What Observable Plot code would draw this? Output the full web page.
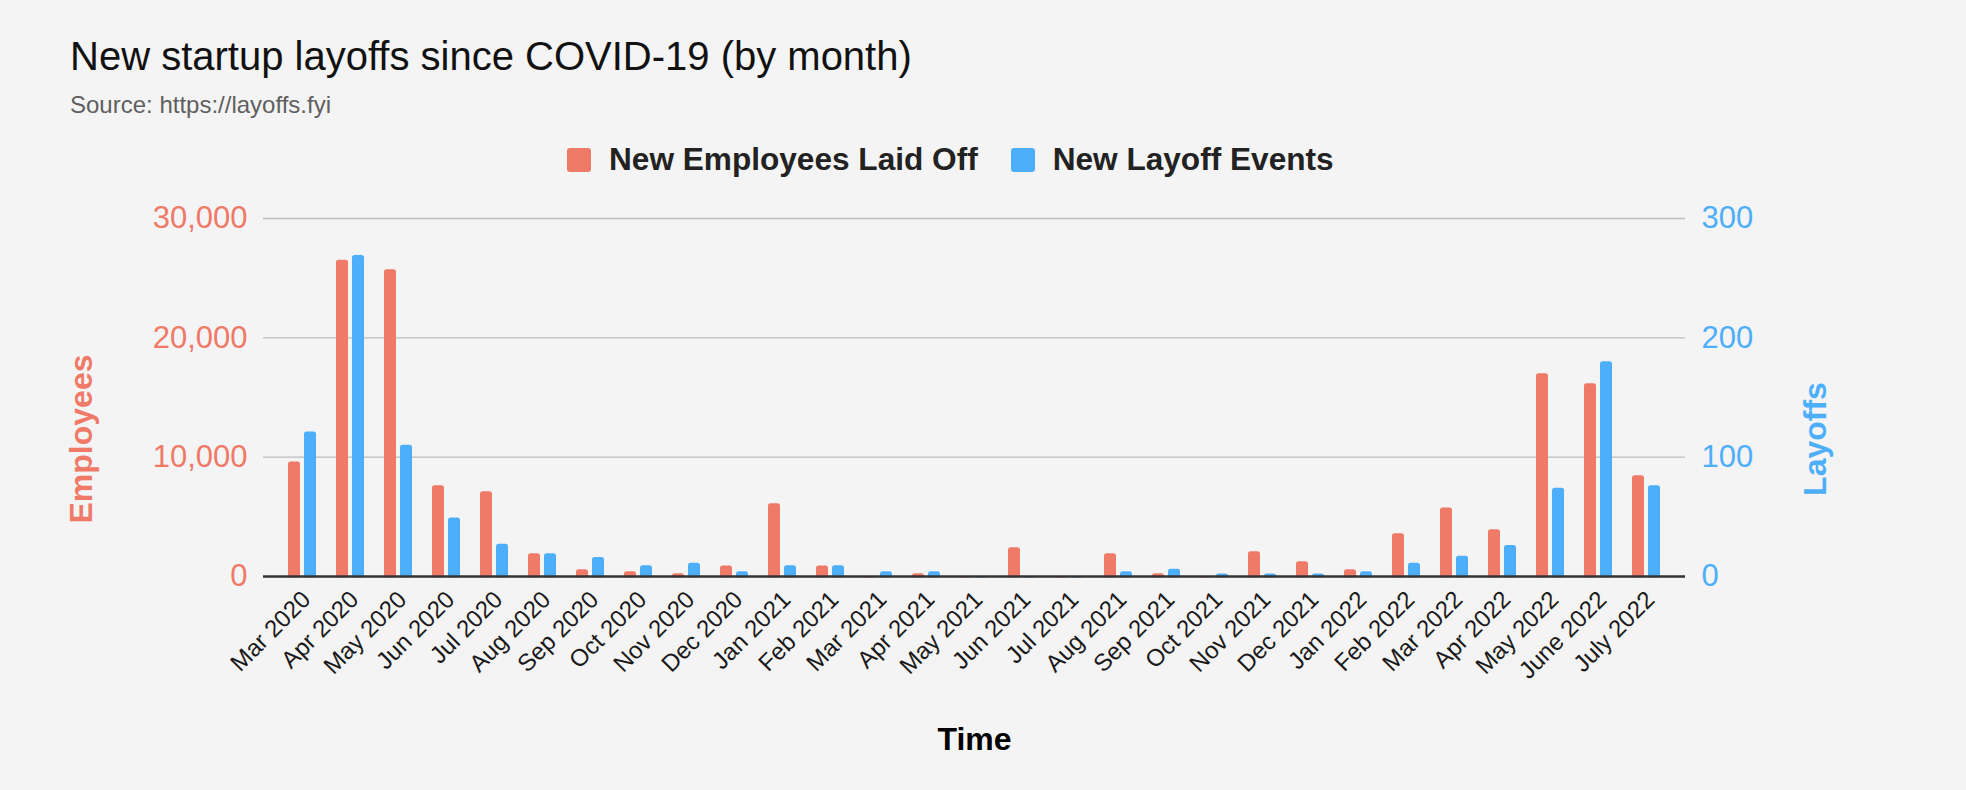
<!DOCTYPE html>
<html>
<head>
<meta charset="utf-8">
<script src="https://cdn.jsdelivr.net/npm/d3@7"></script>
<script src="https://cdn.jsdelivr.net/npm/@observablehq/plot@0.6"></script>
<style>
html, body { margin: 0; padding: 0; background: #f4f4f4; }
#chart { position: relative; width: 1966px; height: 790px; overflow: hidden;
  font-family: "Liberation Sans", Arial, Helvetica, sans-serif; }
#title { position: absolute; left: 70px; top: 36px; font-size: 40px; line-height: 1; color: #111; white-space: nowrap; }
#subtitle { position: absolute; left: 70px; top: 93px; font-size: 24px; line-height: 1; color: #5f5f5f; white-space: nowrap; }
#legend { position: absolute; left: 567px; top: 144px; display: flex; align-items: center;
  font-size: 31.6px; font-weight: bold; color: #222; line-height: 1; white-space: nowrap; }
.item { display: flex; align-items: center; margin-right: 33px; }
.sw { width: 24px; height: 24px; border-radius: 3px; margin-right: 18px; }
#plot { position: absolute; left: 0; top: 190px; }
</style>
</head>
<body>
<div id="chart">
  <div id="title"></div>
  <div id="subtitle"></div>
  <div id="legend"></div>
  <div id="plot"></div>
</div>
<script>
const titleText = "New startup layoffs since COVID-19 (by month)";
const subtitleText = "Source: https://layoffs.fyi";

const months = ["Mar 2020","Apr 2020","May 2020","Jun 2020","Jul 2020","Aug 2020","Sep 2020","Oct 2020","Nov 2020","Dec 2020",
  "Jan 2021","Feb 2021","Mar 2021","Apr 2021","May 2021","Jun 2021","Jul 2021","Aug 2021","Sep 2021","Oct 2021","Nov 2021","Dec 2021",
  "Jan 2022","Feb 2022","Mar 2022","Apr 2022","May 2022","June 2022","July 2022"];
const employees = [9600, 26500, 25700, 7600, 7100, 1900, 560, 390, 225, 890,
  6090, 890, 0, 225, 0, 2400, 0, 1900, 225, 0, 2070, 1230,
  560, 3580, 5750, 3910, 16980, 16150, 8440];
const layoffs = [121, 269, 110, 49, 27, 19, 16, 9, 11, 4,
  9, 9, 4, 4, 0, 0, 0, 4, 6, 2, 2, 2,
  4, 11, 17, 26, 74, 180, 76];

const seriesNames = ["New Employees Laid Off", "New Layoff Events"];
const seriesColors = ["#ef7a68", "#4daffa"];
const axisTitles = ["Employees", "Layoffs", "Time"];
const leftTicks = [0, 10000, 20000, 30000];
const ratio = 100; // right axis (layoffs) 0–300 maps onto left axis 0–30,000

document.getElementById("title").textContent = titleText;
document.getElementById("subtitle").textContent = subtitleText;
const legend = document.getElementById("legend");
seriesNames.forEach((name, i) => {
  const item = document.createElement("div");
  item.className = "item";
  const sw = document.createElement("div");
  sw.className = "sw";
  sw.style.background = seriesColors[i];
  const label = document.createElement("span");
  label.textContent = name;
  item.appendChild(sw);
  item.appendChild(label);
  legend.appendChild(item);
});

const rows = months.map((m, i) => ({month: m, employees: employees[i], layoffs: layoffs[i]}));

const plot = Plot.plot({
  width: 1966,
  height: 600,
  marginTop: 28,
  marginBottom: 214,
  marginLeft: 263,
  marginRight: 281,
  style: {background: "transparent", fontFamily: "'Liberation Sans', Arial, sans-serif", overflow: "visible"},
  x: {domain: months, padding: 0.42, axis: null},
  y: {domain: [0, 30000], axis: null},
  marks: [
    Plot.gridY(leftTicks.filter(d => d > 0), {stroke: "#bdbdbd", strokeOpacity: 1, strokeWidth: 1.3}),
    Plot.barY(rows, {x: "month", y: "employees", fill: seriesColors[0], insetRight: 16, insetBottom: -1.5, rx: 2.5}),
    Plot.barY(rows, {x: "month", y: d => d.layoffs * ratio, fill: seriesColors[1], insetLeft: 16, insetBottom: -1.5, rx: 2.5}),
    Plot.ruleY([0], {stroke: "#333", strokeWidth: 2.5}),
    Plot.axisY(leftTicks, {anchor: "left", tickSize: 0, tickPadding: 16, tickFormat: d3.format(","), fontSize: 31, color: seriesColors[0], label: null}),
    Plot.axisY(leftTicks, {anchor: "right", tickSize: 0, tickPadding: 16, tickFormat: d => d3.format(",")(d / ratio), fontSize: 31, color: seriesColors[1], label: null}),
    Plot.axisX({tickRotate: -45, tickSize: 0, tickPadding: 19, dx: 4, fontSize: 24, color: "#1a1a1a", textAnchor: "end", lineAnchor: "middle", label: null}),
    Plot.text([axisTitles[0]], {text: d => d, frameAnchor: "left", rotate: -90, dx: -181.5, dy: 41.5, fill: seriesColors[0], fontSize: 32, fontWeight: "bold", textAnchor: "middle", lineAnchor: "middle"}),
    Plot.text([axisTitles[1]], {text: d => d, frameAnchor: "right", rotate: -90, dx: 130.5, dy: 41.5, fill: seriesColors[1], fontSize: 32, fontWeight: "bold", textAnchor: "middle", lineAnchor: "middle"}),
    Plot.text([axisTitles[2]], {text: d => d, frameAnchor: "bottom", dy: 163, fill: "#000", fontSize: 32, fontWeight: "bold", textAnchor: "middle", lineAnchor: "middle"})
  ]
});
document.getElementById("plot").appendChild(plot);
</script>
</body>
</html>
